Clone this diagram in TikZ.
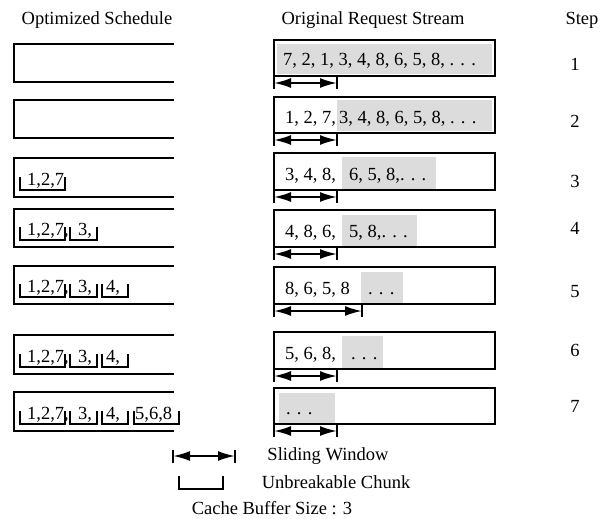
\documentclass[tikz,border=0pt]{standalone}
\usepackage{fontspec}
\setmainfont{Liberation Serif}
\usetikzlibrary{arrows.meta}
\definecolor{pendgray}{RGB}{220,220,220}
\begin{document}
\begin{tikzpicture}[x=1pt,y=-1pt,
  txt/.style={font=\fontsize{18.5}{22}\selectfont, inner sep=0pt},
  seq/.style={txt, anchor=base west},
  frame/.style={line width=2.2pt},
  chunk/.style={line width=1.8pt},
  window/.style={line width=2pt, {Latex[length=17pt,width=10pt]}-{Latex[length=17pt,width=10pt]}},
  tick/.style={line width=2pt}]
\useasboundingbox (0,0) rectangle (602,519);

% column headings
\node[txt] (hsched)  at (97,20)  {Optimized Schedule};
\node[txt] (hstream) at (373,20) {Original Request Stream};
\node[txt] (hstep)   at (582,20) {Step};

% schedule frames (open on the right)
\foreach \t/\b in {44/82,100/138,158/197,209/247,266/304,335/374,392/431}
  \draw[frame] (174,\t) -- (14,\t) -- (14,\b) -- (174,\b);

% unbreakable chunks placed in the schedule
\newcommand{\chunkmark}[3]{% x1, x2, y
  \draw[chunk] (#1,#3-13) -- (#1,#3) -- (#2,#3) -- (#2,#3-13);}
% step 3
\chunkmark{20}{65}{190}
\node[seq] (c31) at (27,185) {1,2,7};
% step 4
\chunkmark{20}{65}{240}\chunkmark{70}{97}{240}
\node[seq] (c41) at (27,235) {1,2,7,};
\node[seq] (c42) at (78,235) {3,};
% step 5
\chunkmark{20}{65}{297}\chunkmark{70}{97}{297}\chunkmark{102}{128}{297}
\node[seq] (c51) at (27,292) {1,2,7,};
\node[seq] (c52) at (78,292) {3,};
\node[seq] (c53) at (106,292) {4,};
% step 6
\chunkmark{20}{65}{367}\chunkmark{70}{97}{367}\chunkmark{102}{128}{367}
\node[seq] (c61) at (27,362) {1,2,7,};
\node[seq] (c62) at (78,362) {3,};
\node[seq] (c63) at (106,362) {4,};
% step 7
\chunkmark{20}{65}{424}\chunkmark{70}{97}{424}\chunkmark{102}{128}{424}\chunkmark{134}{179}{424}
\node[seq] (c71) at (27,419) {1,2,7,};
\node[seq] (c72) at (78,419) {3,};
\node[seq] (c73) at (106,419) {4,};
\node[seq] (c74) at (135,419) {5,6,8};

% pending part of the request stream
\fill[pendgray] (277,44)  rectangle (492,74);
\fill[pendgray] (337,100) rectangle (492,131);
\fill[pendgray] (342,157) rectangle (436,189);
\fill[pendgray] (342,215) rectangle (417,246);
\fill[pendgray] (361,272) rectangle (403,303);
\fill[pendgray] (342,336) rectangle (383,368);
\fill[pendgray] (279,393) rectangle (335,423);

% request stream frames
\foreach \t/\b in {40/76,97/133,153/190,210/247,267/304,332/369,388/424}
  \draw[frame] (274,\t) rectangle (495,\b);

% request stream contents
\node[seq] (r1)  at (283,66)  {7, 2, 1, 3, 4, 8, 6, 5, 8, . . .};
\node[seq] (r2a) at (285,123) {1, 2, 7,};
\node[seq] (r2b) at (339,123) {3, 4, 8, 6, 5, 8, . . .};
\node[seq] (r3a) at (285,180) {3, 4, 8,};
\node[seq] (r3b) at (349,180) {6, 5, 8,. . .};
\node[seq] (r4a) at (285,237) {4, 8, 6,};
\node[seq] (r4b) at (349,237) {5, 8,. . .};
\node[seq] (r5a) at (285,294) {8, 6, 5, 8};
\node[seq] (r5b) at (368,294) {. . .};
\node[seq] (r6a) at (285,359) {5, 6, 8,};
\node[seq] (r6b) at (351,359) {. . .};
\node[seq] (r7)  at (286,414) {. . .};

% step numbers
\foreach \n/\y in {1/64,2/121,3/181,4/228,5/292,6/350,7/406}
  \node[txt] (step\n) at (575,\y) {\n};

% sliding windows under each stream
\foreach \b/\r [count=\i] in {76/337,133/337,190/337,247/337,304/362,369/337,424/337} {
  \coordinate (wl\i) at (274,\b+7);
  \coordinate (wr\i) at (\r,\b+7);
  \draw[tick] (274,\b) -- (274,\b+13);
  \draw[tick] (\r,\b+1) -- (\r,\b+13);
  \draw[window] (wl\i) -- (wr\i);
}

% legend
\coordinate (lwl) at (173,456);
\coordinate (lwr) at (235,456);
\draw[tick] (173,450) -- (173,463);
\draw[tick] (235,450) -- (235,463);
\draw[window] (lwl) -- (lwr);
\node[txt] (lwin) at (328,456) {Sliding Window};
\chunkmark{179}{223}{489}
\node[txt] (lchunk) at (336,482) {Unbreakable Chunk};
\node[txt] (lbuf) at (272,508) {Cache Buffer Size : 3};
\end{tikzpicture}
\end{document}
